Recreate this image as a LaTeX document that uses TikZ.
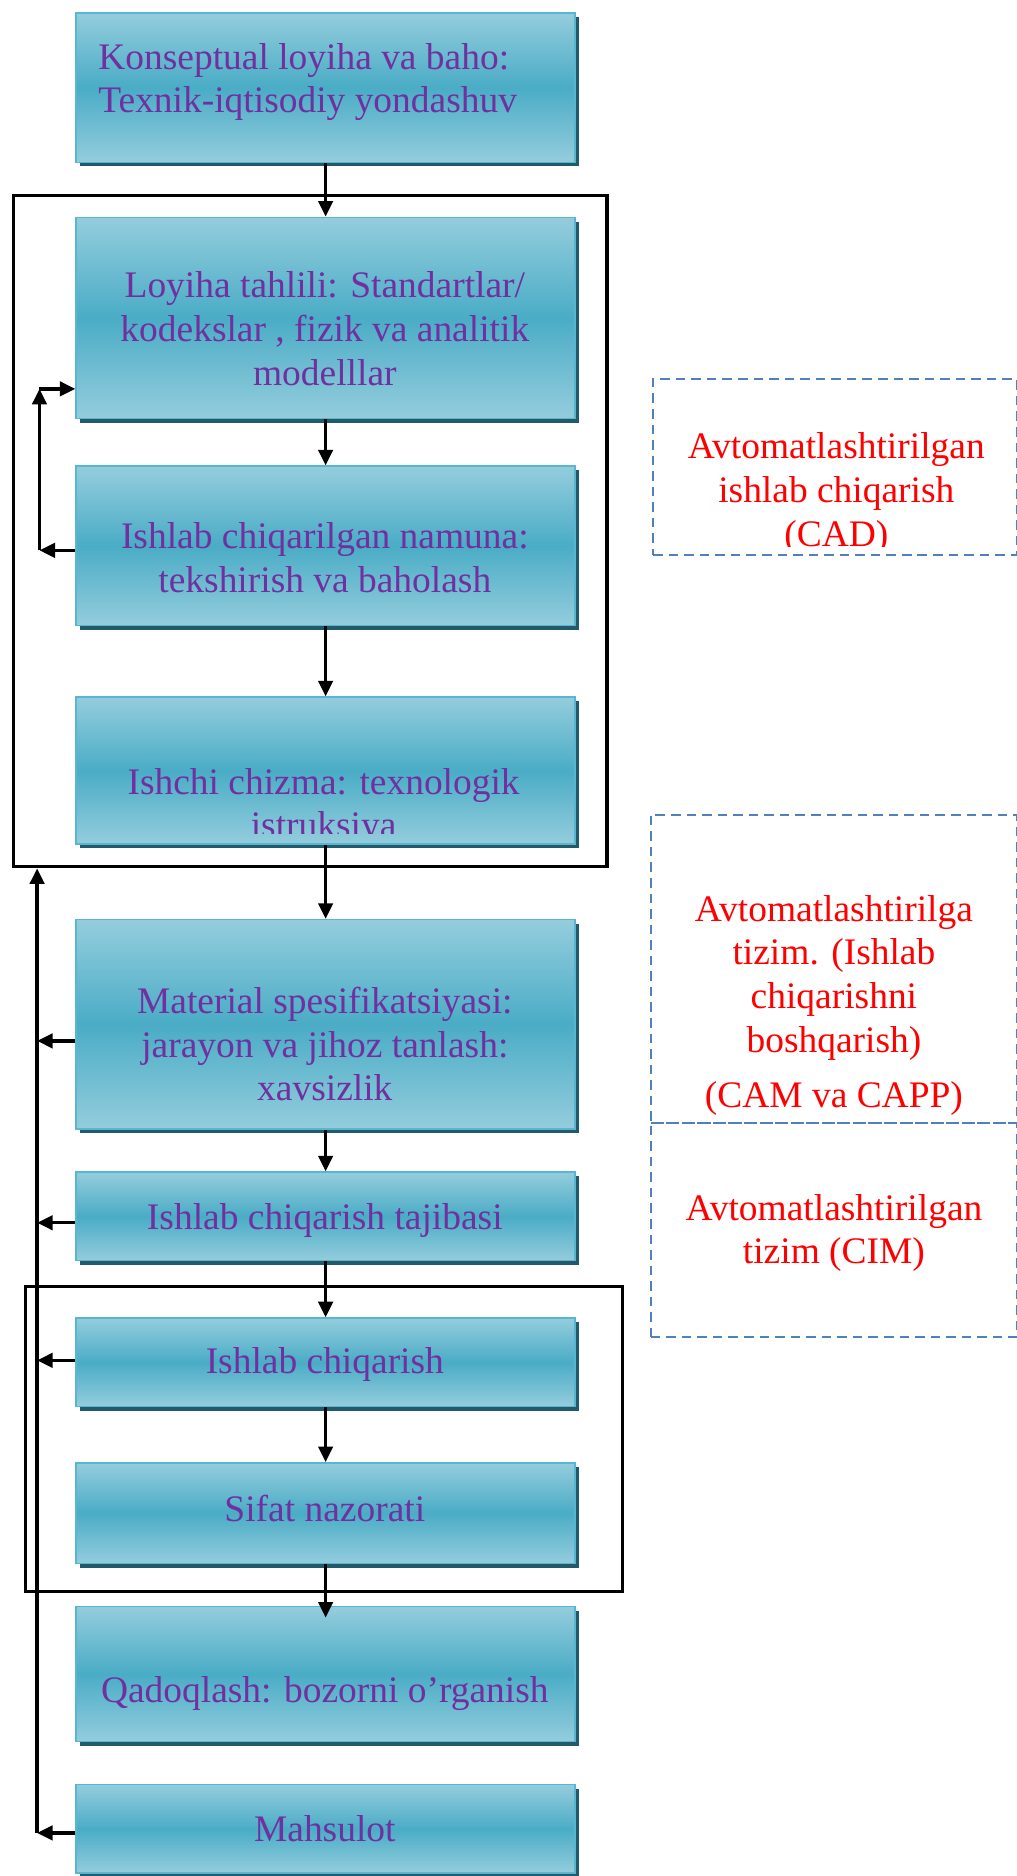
\documentclass[tikz,border=0pt]{standalone}
\usepackage{fontspec}
\setmainfont{Liberation Serif}
\usetikzlibrary{arrows.meta,shadows,calc}
\definecolor{lt}{RGB}{148,205,221}
\definecolor{dk}{RGB}{74,172,198}
\definecolor{bord}{RGB}{88,182,208}
\definecolor{shc}{RGB}{35,90,105}
\definecolor{ptxt}{RGB}{112,48,160}
\definecolor{dblue}{RGB}{79,129,189}
\newcommand\bxfont{\fontsize{31.3}{36.5}\selectfont}
\begin{document}
\begin{tikzpicture}[x=1pt,y=1pt,
  blk/.style={draw=bord, line width=1.3pt, top color=lt, bottom color=lt, middle color=dk,
    general shadow={fill=shc, shadow xshift=3pt, shadow yshift=-3.5pt},
    minimum width=417pt, anchor=north west, inner sep=0pt},
  ptext/.style={text=ptxt, font=\bxfont, align=center, inner sep=0pt},
  rtext/.style={text=red, font=\bxfont, align=center, inner sep=0pt},
  arr/.style={line width=2.8pt, -{Triangle[length=13pt,width=12pt]}},
  frm/.style={draw=black, line width=2.8pt, anchor=north west, inner sep=0pt},
  dbox/.style={draw=dblue, line width=1.7pt, dash pattern=on 8pt off 5pt, anchor=north west, inner sep=0pt}]
\useasboundingbox (0,0) rectangle (850,-1568);

% frames
\node[frm, minimum width=496pt, minimum height=561pt] (f1) at (10,-162) {};
\node[frm, minimum width=499pt, minimum height=255pt] (f2) at (20,-1074) {};

% boxes
\node[blk, minimum height=125pt] (b1) at (63,-10) {};
\node[blk, minimum height=168pt] (b2) at (63,-181) {};
\node[blk, minimum height=133pt] (b3) at (63,-389) {};
\node[blk, minimum height=123pt] (b4) at (63,-582) {};
\node[blk, minimum height=175pt] (b5) at (63,-768) {};
\node[blk, minimum height=74pt] (b6) at (63,-979) {};
\node[blk, minimum height=74pt] (b7) at (63,-1101) {};
\node[blk, minimum height=84pt] (b8) at (63,-1222) {};
\node[blk, minimum height=113pt] (b9) at (63,-1342) {};
\node[blk, minimum height=74pt] (b10) at (63,-1491) {};

% box texts
\node[ptext, align=left, anchor=west] (x1) at (82,-68.7) {\strut Konseptual loyiha va baho:\\\strut Texnik-iqtisodiy yondashuv};
\node[ptext] (x2) at (271.5,-278.2) {\strut Loyiha tahlili: Standartlar/\\\strut kodekslar , fizik va analitik\\\strut modelllar};
\node[ptext] (x3) at (271.5,-469.7) {\strut Ishlab chiqarilgan namuna:\\\strut tekshirish va baholash};
\begin{scope}
  \clip (b4.north west) rectangle ($(b4.south east)+(0,10)$);
  \node[ptext] (x4) at (270.5,-674.7) {\strut Ishchi chizma: texnologik\\\strut istruksiya};
\end{scope}
\node[ptext] (x5) at (271.5,-876.2) {\strut Material spesifikatsiyasi:\\\strut jarayon va jihoz tanlash:\\\strut xavsizlik};
\node[ptext] (x6) at (271.5,-1020.7) {\strut Ishlab chiqarish tajibasi};
\node[ptext] (x7) at (271.5,-1140.7) {\strut Ishlab chiqarish};
\node[ptext] (x8) at (271.5,-1264.7) {\strut Sifat nazorati};
\node[ptext] (x9) at (271.5,-1415.7) {\strut Qadoqlash: bozorni o’rganish};
\node[ptext] (x10) at (271.5,-1531.7) {\strut Mahsulot};

% dashed boxes
\node[dbox, minimum width=304pt, minimum height=147pt] (d1) at (545,-316) {};
\node[dbox, minimum width=306pt, minimum height=258pt] (d2) at (543,-680) {};
\node[dbox, minimum width=306pt, minimum height=179pt] (d3) at (543,-938) {};
\begin{scope}
  \clip (d1.north west) rectangle ($(d1.south east)+(0,8)$);
  \node[rtext] (r1) at (699,-412.7) {\strut Avtomatlashtirilgan\\\strut ishlab chiqarish\\\strut (CAD)};
\end{scope}
\node[rtext] (r2) at (697,-840.7) {\strut Avtomatlashtirilga\\\strut tizim. (Ishlab\\\strut chiqarishni\\\strut boshqarish)\\[10pt]\strut (CAM va CAPP)};
\node[rtext] (r3) at (697,-1030.7) {\strut Avtomatlashtirilgan\\\strut tizim (CIM)};

% main flow arrows
\draw[arr] (b1.south) -- (b2.north);
\draw[arr] (b2.south) -- (b3.north);
\draw[arr] (b3.south) -- (b4.north);
\draw[arr] (b4.south) -- (b5.north);
\draw[arr] (b5.south) -- (b6.north);
\draw[arr] (b6.south) -- (b7.north);
\draw[arr] (b7.south) -- (b8.north);
\draw[arr, shorten >=-10pt] (b8.south) -- (b9.north);

% inner feedback loop
\coordinate (u3) at (33,-460);
\coordinate (u2) at (33,-325);
\draw[arr] (b3.west |- u3) -- (u3);
\draw[arr] (u3) -- (u2);
\draw[arr] (u2) -- (b2.west |- u2);

% outer feedback trunk
\coordinate (t5) at (31,-870);
\coordinate (t6) at (31,-1022);
\coordinate (t7) at (31,-1137);
\coordinate (t10) at (31,-1532);
\draw[arr] (b5.west |- t5) -- (t5);
\draw[arr] (b6.west |- t6) -- (t6);
\draw[arr] (b7.west |- t7) -- (t7);
\draw[arr] (b10.west |- t10) -- (t10);
\draw[arr] (t10) -- (t10 |- f1.south);
\end{tikzpicture}
\end{document}
